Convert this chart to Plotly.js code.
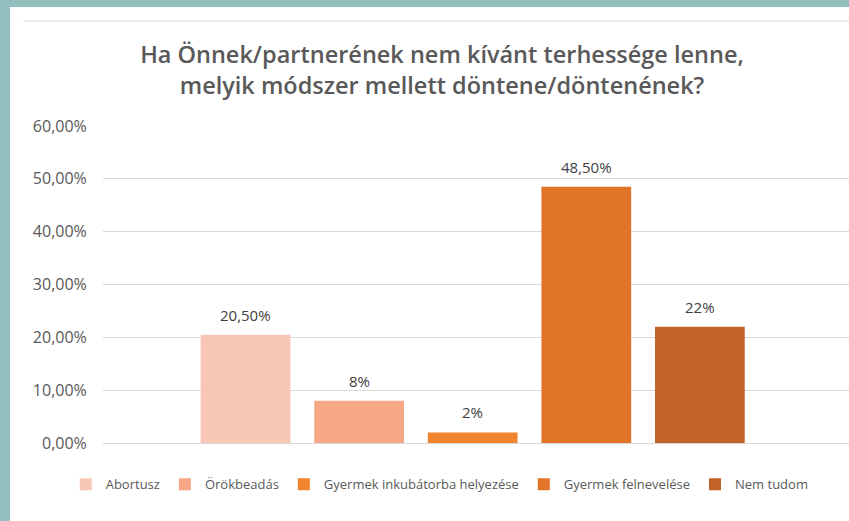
<!DOCTYPE html>
<html>
<head>
<meta charset="utf-8">
<script src="https://cdn.plot.ly/plotly-3.0.1.min.js"></script>
<style>
html,body{margin:0;padding:0;background:#93bfbf;width:849px;height:521px;overflow:hidden;}
#chart{position:absolute;left:10px;top:7px;width:839px;height:514px;background:#fff;}
</style>
</head>
<body>
<div id="chart"></div>
<script>
// Data
var categories = ["Abortusz", "Örökbeadás", "Gyermek inkubátorba helyezése", "Gyermek felnevelése", "Nem tudom"];
var values = [0.205, 0.08, 0.02, 0.485, 0.22];
var valueLabels = ["20,50%", "8%", "2%", "48,50%", "22%"];
var yTicks = [0, 0.1, 0.2, 0.3, 0.4, 0.5, 0.6];
var colors = ["#f8c6b4", "#f6a886", "#f08430", "#e27428", "#c1622a"];

var traces = categories.map(function(c, i){
  return {
    type: "bar",
    name: c,
    x: [c],
    y: [values[i]],
    marker: {color: colors[i]},
    hoverinfo: "skip"
  };
});

var annotations = categories.map(function(c, i){
  return {
    x: c, y: values[i], xref: "x", yref: "y",
    text: valueLabels[i], showarrow: false,
    yanchor: "bottom", yshift: 8,
    font: {family: "Open Sans, sans-serif", size: 15, color: "#404040"}
  };
});

var layout = {
  width: 839, height: 514,
  paper_bgcolor: "#ffffff", plot_bgcolor: "#ffffff",
  margin: {l: 93, r: 0, t: 119, b: 78},
  separators: ", ",
  title: {
    text: "Ha Önnek/partnerének nem kívánt terhessége lenne,<br>melyik módszer mellett döntene/döntenének?",
    font: {family: "Open Sans, sans-serif", size: 23.5, color: "#595959", weight: 600},
    x: (442 - 10) / 839, xanchor: "center", xref: "container",
    y: 1 - 56/514, yanchor: "top", yref: "container"
  },
  barmode: "overlay",
  bargap: 0.21,
  xaxis: {
    type: "category",
    range: [-1.255, 5.313],
    showticklabels: false, showgrid: false, zeroline: false, showline: false,
    fixedrange: true
  },
  yaxis: {
    range: [0, 0.6],
    tickvals: yTicks,
    tickformat: ".2%",
    showgrid: true, gridcolor: "#d9d9d9", gridwidth: 1,
    zeroline: true, zerolinecolor: "#d9d9d9", zerolinewidth: 1,
    showline: false,
    ticks: "outside", ticklen: 12, tickcolor: "rgba(0,0,0,0)",
    tickfont: {family: "Open Sans, sans-serif", size: 16, color: "#595959"},
    fixedrange: true
  },
  showlegend: true,
  legend: {
    orientation: "h",
    x: -0.05, xanchor: "left",
    y: -0.13, yanchor: "middle",
    font: {family: "Open Sans, sans-serif", size: 13, color: "#595959"},
    itemwidth: 30,
    traceorder: "normal"
  },
  annotations: annotations,
  shapes: [{
    type: "line", xref: "paper", yref: "paper",
    x0: -0.107, x1: 1.0, y0: 1.331, y1: 1.331,
    line: {color: "#d9d9d9", width: 1}
  }]
};

Plotly.newPlot("chart", traces, layout, {displayModeBar: false, staticPlot: true});
</script>
</body>
</html>
